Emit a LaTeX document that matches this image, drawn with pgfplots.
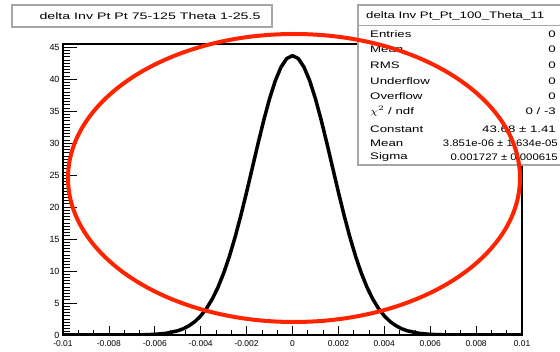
\documentclass[border=0pt]{standalone}
\usepackage{pgfplots}
\pgfplotsset{compat=1.18}
\usepackage{fontspec}
\setmainfont{Liberation Sans}
\usepackage{graphicx}
\definecolor{annot}{RGB}{255,35,0}
\newcommand{\st}[1]{\scalebox{1.4}[1]{#1}}
\pgfplotstableread{
x y
-0.0100 0
-0.0090 0
-0.0080 0
-0.0070 0.01
-0.0065 0.04
-0.0060 0.10
-0.0055 0.27
-0.0050 0.66
-0.00475 0.99
-0.0045 1.47
-0.00425 2.11
-0.0040 2.99
-0.00375 4.14
-0.0035 5.60
-0.00325 7.43
-0.0030 9.66
-0.00275 12.29
-0.0025 15.32
-0.00225 18.69
-0.0020 22.34
-0.00175 26.14
-0.0015 29.96
-0.00125 33.61
-0.0010 36.94
-0.00075 39.75
-0.0005 41.89
-0.00025 43.23
0.0000 43.68
0.00025 43.23
0.0005 41.89
0.00075 39.75
0.0010 36.94
0.00125 33.61
0.0015 29.96
0.00175 26.14
0.0020 22.34
0.00225 18.69
0.0025 15.32
0.00275 12.29
0.0030 9.66
0.00325 7.43
0.0035 5.60
0.00375 4.14
0.0040 2.99
0.00425 2.11
0.0045 1.47
0.00475 0.99
0.0050 0.66
0.0055 0.27
0.0060 0.10
0.0065 0.04
0.0070 0.01
0.0080 0
0.0090 0
0.0100 0
}\curve
\begin{document}
\begin{tikzpicture}
\useasboundingbox (0,0) rectangle (560bp,352bp);
\clip (0,0) rectangle (560bp,352bp);
\pgfplotsset{
  rootaxis/.style={
    at={(63bp,17bp)}, anchor=south west, scale only axis,
    width=459bp, height=291bp,
    xmin=-0.01, xmax=0.01, ymin=0, ymax=45.5,
    tick align=inside, xtick pos=bottom, ytick pos=left,
    every tick/.style={black, line width=0.8bp},
    /pgf/number format/assume math mode=true,
  }
}
\begin{axis}[rootaxis,
  xtick={-0.01,-0.008,-0.006,-0.004,-0.002,0,0.002,0.004,0.006,0.008,0.01},
  xticklabels={-0.01,-0.008,-0.006,-0.004,-0.002,0,0.002,0.004,0.006,0.008,0.01},
  xticklabel style={font=\fontsize{8.5}{9}\selectfont, yshift=-2.5bp},
  scaled x ticks=false,
  minor x tick num=2,
  major tick length=9bp, minor tick length=4.5bp,
  ytick=\empty,
  axis line style={line width=1.5bp},
  clip=true]
\addplot[black, line width=3.5bp, line join=round] table[x=x,y=y] {\curve};
\end{axis}
\begin{axis}[rootaxis,
  xtick=\empty,
  ytick={0,5,10,15,20,25,30,35,40,45},
  yticklabel style={font=\fontsize{9}{10}\selectfont},
  minor y tick num=9,
  major tick length=14bp, minor tick length=7bp,
  axis line style={draw=none}]
\end{axis}
% title box
\draw[fill=white, draw=gray!70, line width=2bp] (12bp,325bp) rectangle (272bp,347bp);
\node[font=\fontsize{9.5}{11}\selectfont] at (150bp,336bp) {\scalebox{1.5}[1]{delta Inv Pt  Pt 75-125  Theta 1-25.5}};
% stats box
\draw[fill=white, draw=gray!70, line width=2bp] (358bp,187bp) rectangle (585bp,347bp);
\draw[gray!70, line width=1bp] (358bp,326bp) -- (585bp,326bp);
\begin{scope}[every node/.style={font=\fontsize{9.5}{11}\selectfont, inner sep=0pt}]
\node[anchor=west] at (366bp,336bp) {\st{delta Inv Pt\_Pt\_100\_Theta\_11}};
\node[anchor=west] at (370bp,318bp) {\st{Entries}};
\node[anchor=east] at (556bp,318bp) {\st{0}};
\node[anchor=west] at (370bp,303bp) {\st{Mean}};
\node[anchor=east] at (556bp,303bp) {\st{0}};
\node[anchor=west] at (370bp,287bp) {\st{RMS}};
\node[anchor=east] at (556bp,287bp) {\st{0}};
\node[anchor=west] at (370bp,271bp) {\st{Underflow}};
\node[anchor=east] at (556bp,271bp) {\st{0}};
\node[anchor=west] at (370bp,256bp) {\st{Overflow}};
\node[anchor=east] at (556bp,256bp) {\st{0}};
\node[anchor=west] at (370bp,241bp) {\st{$\chi^{2}$ / ndf}};
\node[anchor=east] at (556bp,241bp) {\st{0 / -3}};
\node[anchor=west] at (370bp,223bp) {\st{Constant}};
\node[anchor=east] at (556bp,223bp) {\st{43.68 ± 1.41}};
\node[anchor=west] at (370bp,209bp) {\st{Mean}};
\node[anchor=east] at (558bp,209bp) {\scalebox{1.2}[1]{3.851e-06 ± 1.634e-05}};
\node[anchor=west] at (370bp,195bp) {\st{Sigma}};
\node[anchor=east] at (558bp,195bp) {\scalebox{1.2}[1]{0.001727 ± 0.000615}};
\end{scope}
% annotation ellipse
\draw[annot, line width=4bp] (294bp,174bp) ellipse [x radius=226bp, y radius=144bp];
\end{tikzpicture}
\end{document}
